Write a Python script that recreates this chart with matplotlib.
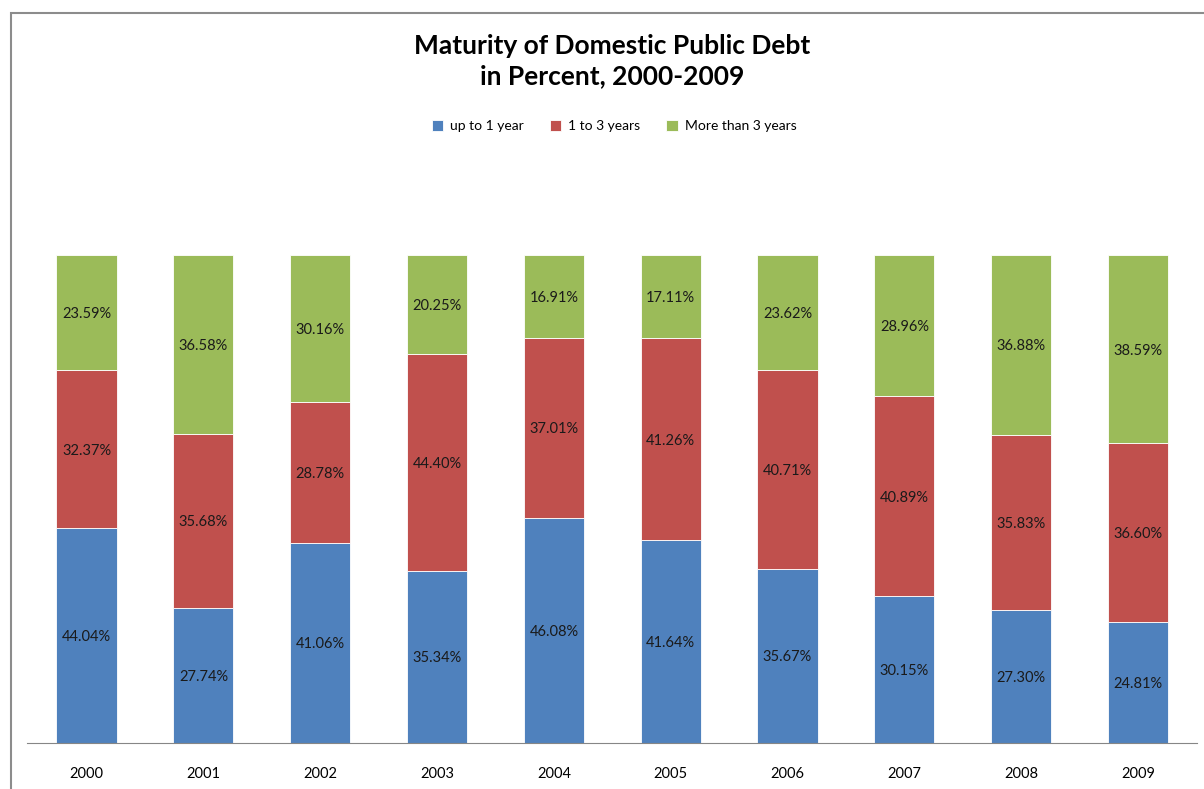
import matplotlib

matplotlib.use("Agg")
import matplotlib.pyplot as plt
from matplotlib.patches import Rectangle
import numpy as np

years = ["2000", "2001", "2002", "2003", "2004", "2005", "2006", "2007", "2008", "2009"]
up_to_1 = [44.04, 27.74, 41.06, 35.34, 46.08, 41.64, 35.67, 30.15, 27.30, 24.81]
one_to_3 = [32.37, 35.68, 28.78, 44.40, 37.01, 41.26, 40.71, 40.89, 35.83, 36.60]
more_3 = [23.59, 36.58, 30.16, 20.25, 16.91, 17.11, 23.62, 28.96, 36.88, 38.59]

series = [
    ("up to 1 year", up_to_1, "#4F81BD"),
    ("1 to 3 years", one_to_3, "#C0504D"),
    ("More than 3 years", more_3, "#9BBB59"),
]

plt.rcParams["font.family"] = ["Lato", "DejaVu Sans"]

W, H = 1204, 789
fig = plt.figure(figsize=(W / 100, H / 100), dpi=100)

# chart border (only left and top visible in the crop)
fig.patches.append(Rectangle((10.5 / W, -0.1), 1.2, 1 - 13.5 / H + 0.1, transform=fig.transFigure,
                             fill=False, edgecolor="#8c8c8c", linewidth=1.5))

ax = fig.add_axes([27 / W, 1 - 743 / H, (1197 - 27) / W, (743 - 255) / H])
x = np.arange(len(years))
bottom = np.zeros(len(years))
for name, vals, color in series:
    vals = np.array(vals)
    ax.bar(x, vals, 0.515, bottom=bottom, color=color, edgecolor="white", linewidth=0.6, label=name)
    for xi, b, v in zip(x, bottom, vals):
        ax.text(xi, b + v / 2, f"{v:.2f}%", ha="center", va="center_baseline", fontsize=10.5,
                color="#1a1a1a")
    bottom += vals

ax.set_xlim(-0.51, 9.505)
ax.set_ylim(0, 100)
for side in ["left", "right", "top"]:
    ax.spines[side].set_visible(False)
ax.spines["bottom"].set_color("#868686")
ax.set_yticks([])
ax.set_xticks(x)
ax.set_xticklabels(years, fontsize=10.5)
ax.tick_params(axis="x", length=0, pad=17)

fig.text(612 / W, 1 - 61 / H, "Maturity of Domestic Public Debt\nin Percent, 2000-2009", ha="center",
         va="center", fontsize=19, fontweight="bold", linespacing=1.3)

handles, labels = ax.get_legend_handles_labels()
fig.legend(handles, labels, loc="center", bbox_to_anchor=(614 / W, 1 - 126 / H), ncol=3, frameon=False,
           fontsize=10, handlelength=0.8, handleheight=0.8, columnspacing=1.9, handletextpad=0.5)

fig.savefig("out.png", dpi=100)
